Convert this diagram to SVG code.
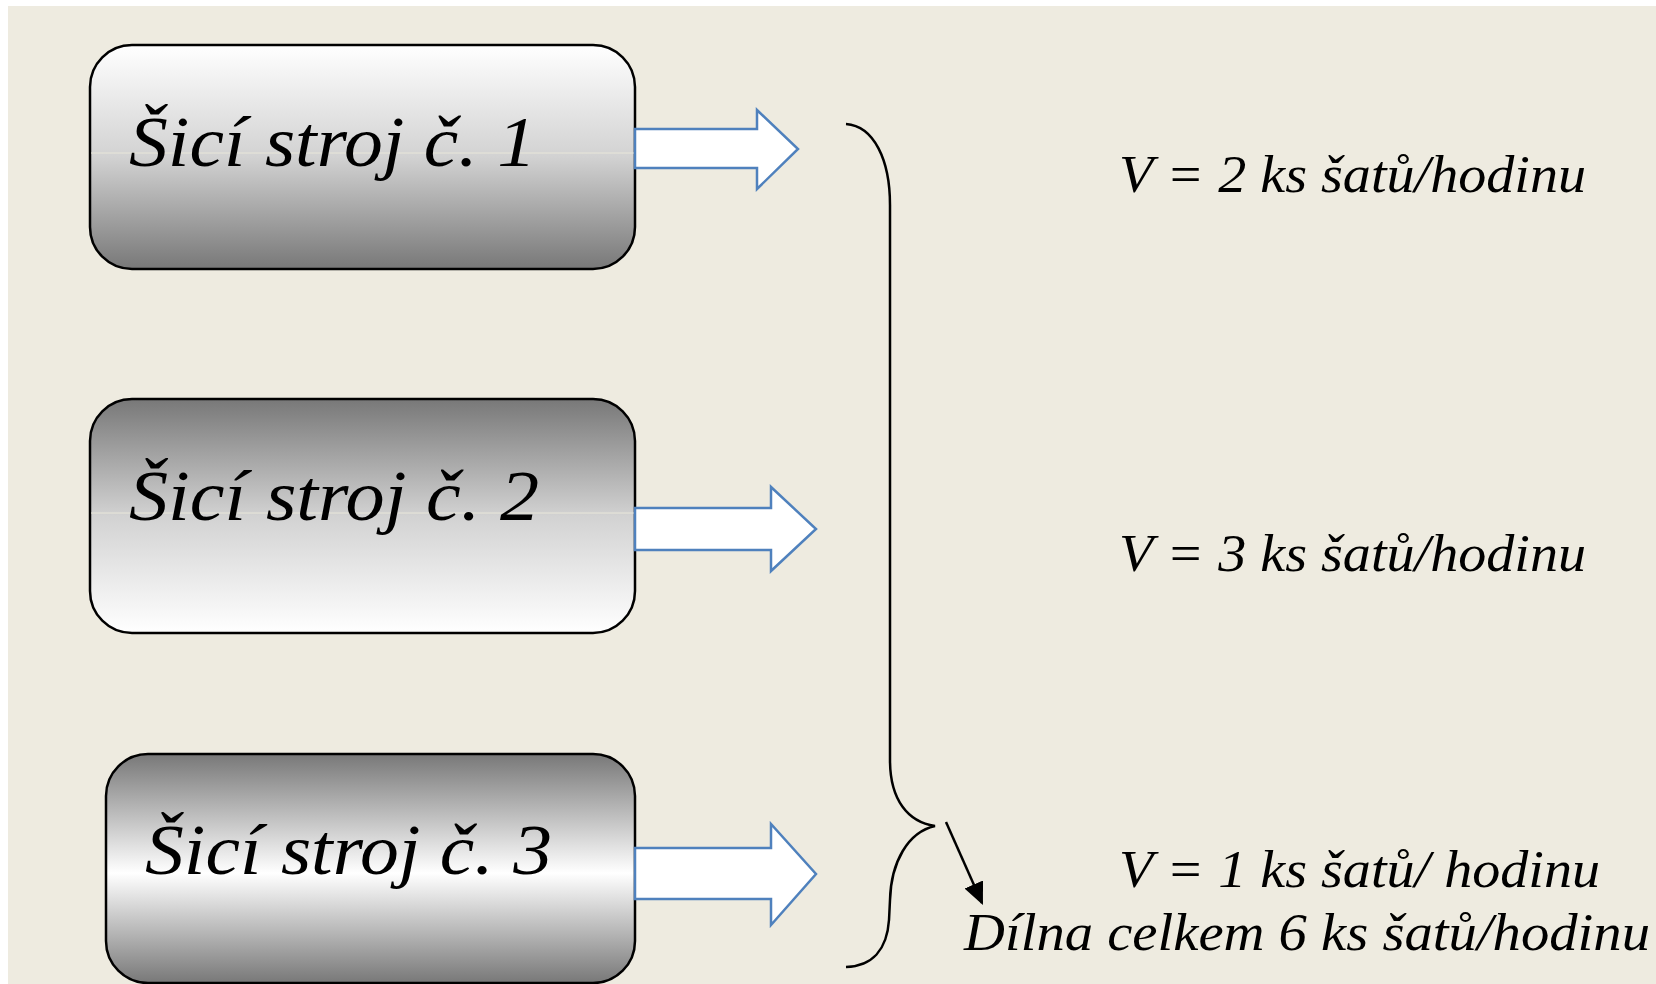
<svg xmlns="http://www.w3.org/2000/svg" width="1656" height="984" viewBox="0 0 1656 984">
  <defs>
    <linearGradient id="gDown" x1="0" y1="0" x2="0" y2="1">
      <stop offset="0" stop-color="#ffffff"/>
      <stop offset="0.5" stop-color="#d2d2d2"/>
      <stop offset="1" stop-color="#787878"/>
    </linearGradient>
    <linearGradient id="gUp" x1="0" y1="0" x2="0" y2="1">
      <stop offset="0" stop-color="#787878"/>
      <stop offset="0.5" stop-color="#d2d2d2"/>
      <stop offset="1" stop-color="#ffffff"/>
    </linearGradient>
    <linearGradient id="gMid" x1="0" y1="0" x2="0" y2="1">
      <stop offset="0" stop-color="#787878"/>
      <stop offset="0.52" stop-color="#ffffff"/>
      <stop offset="1" stop-color="#787878"/>
    </linearGradient>
    <marker id="head" viewBox="0 0 10 10" refX="9" refY="5" markerWidth="9" markerHeight="9" orient="auto" markerUnits="strokeWidth">
      <path d="M0,0.5 L10,5 L0,9.5 Z" fill="#000"/>
    </marker>
    <style>
      .box { stroke: #000; stroke-width: 2.5; }
      .seam { stroke: #e9e7da; stroke-width: 1; }
      .label { font-family: "Liberation Serif", "Times New Roman", serif; font-style: italic; font-size: 72px; fill: #000; }
      .rate { font-family: "Liberation Serif", "Times New Roman", serif; font-style: italic; font-size: 52px; fill: #000; }
      .flow { fill: #ffffff; stroke: #4f81bd; stroke-width: 2.5; stroke-linejoin: miter; }
      .brace { fill: none; stroke: #000; stroke-width: 2.5; }
    </style>
  </defs>

  <!-- slide background -->
  <rect x="0" y="0" width="1656" height="984" fill="#ffffff"/>
  <rect x="8" y="6" width="1648" height="978" fill="#EEEBE0"/>

  <!-- machine 1 -->
  <g id="stroj1">
    <rect class="box" x="90" y="45" width="545" height="224" rx="42" ry="42" fill="url(#gDown)"/>
    <line class="seam" x1="91" y1="153" x2="634" y2="153"/>
    <text class="label" x="129" y="166" textLength="407" lengthAdjust="spacingAndGlyphs">Šicí stroj č. 1</text>
  </g>

  <!-- machine 2 -->
  <g id="stroj2">
    <rect class="box" x="90" y="399" width="545" height="234" rx="42" ry="42" fill="url(#gUp)"/>
    <line class="seam" x1="91" y1="513" x2="634" y2="513"/>
    <text class="label" x="129" y="520" textLength="410" lengthAdjust="spacingAndGlyphs">Šicí stroj č. 2</text>
  </g>

  <!-- machine 3 -->
  <g id="stroj3">
    <rect class="box" x="106" y="754" width="529" height="229" rx="42" ry="42" fill="url(#gMid)"/>
    <text class="label" x="145" y="874" textLength="407" lengthAdjust="spacingAndGlyphs">Šicí stroj č. 3</text>
  </g>

  <!-- output rates -->
  <g id="vykon1">
    <text class="rate" x="1119" y="192" textLength="467" lengthAdjust="spacingAndGlyphs">V = 2 ks šatů/hodinu</text>
  </g>
  <g id="vykon2">
    <text class="rate" x="1119" y="571" textLength="467" lengthAdjust="spacingAndGlyphs">V = 3 ks šatů/hodinu</text>
  </g>
  <g id="vykon3">
    <text class="rate" x="1119" y="887" textLength="481" lengthAdjust="spacingAndGlyphs">V = 1 ks šatů/ hodinu</text>
  </g>
  <g id="celkem">
    <text class="rate" x="964" y="950" textLength="686" lengthAdjust="spacingAndGlyphs">Dílna celkem 6 ks šatů/hodinu</text>
  </g>

  <!-- connectors -->
  <g id="connectors">
    <path class="flow" d="M635,129 L757,129 L757,110 L798,149 L757,189 L757,168 L635,168 Z"/>
    <path class="flow" d="M635,508 L771,508 L771,487 L816,529 L771,571 L771,550 L635,550 Z"/>
    <path class="flow" d="M635,848 L771,848 L771,824 L816,874 L771,925 L771,899 L635,899 Z"/>
    <path class="brace" d="M846,124 C874,126 890,160 890,205 L890,760 C890,800 908,822 935,826 C908,832 891,862 890,900 L889,920 C887,950 872,966 846,967"/>
    <line x1="946" y1="822" x2="982" y2="903" stroke="#000" stroke-width="2.5" marker-end="url(#head)"/>
  </g>
</svg>
